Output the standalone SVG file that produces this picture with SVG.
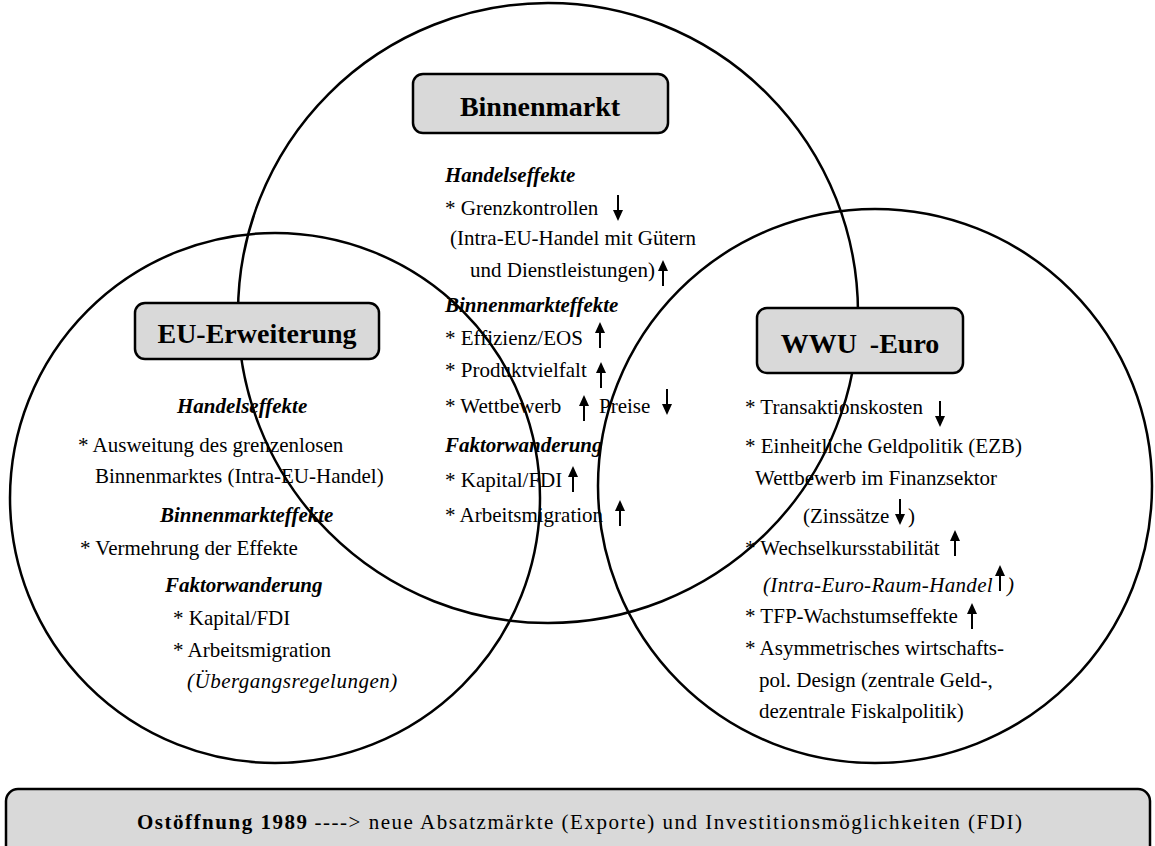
<svg xmlns="http://www.w3.org/2000/svg" width="1155" height="846" viewBox="0 0 1155 846">
<style>
text{font-family:"Liberation Serif","Times New Roman",serif;font-size:21px;fill:#000}
.t{font-weight:bold;font-size:28px;text-anchor:middle}
.h{font-weight:bold;font-style:italic}
.i{font-style:italic}
.circ{fill:none;stroke:#000;stroke-width:2.5}
.box{fill:#d9d9d9;stroke:#000;stroke-width:2.5}
</style>
<defs>
<g id="up"><polygon points="0,0 -5,11 5,11"/><line x1="0" y1="9" x2="0" y2="26" stroke="#000" stroke-width="2"/></g>
<g id="dn"><polygon points="0,0 -5,-11 5,-11"/><line x1="0" y1="-9" x2="0" y2="-26" stroke="#000" stroke-width="2"/></g>
</defs>
<rect width="1155" height="846" fill="#fff"/>
<g id="circles">
<circle class="circ" cx="548" cy="313" r="310"/>
<circle class="circ" cx="275" cy="498" r="265"/>
<circle class="circ" cx="875" cy="486" r="277"/>
</g>
<g id="binnenmarkt">
<rect class="box" x="413" y="74" width="255" height="59" rx="10"/>
<text class="t" x="540" y="116">Binnenmarkt</text>
<text class="h" x="445" y="182">Handelseffekte</text>
<text x="445" y="215">* Grenzkontrollen</text>
<use href="#dn" x="618" y="221"/>
<text x="450" y="245">(Intra-EU-Handel mit Gütern</text>
<text x="470" y="277">und Dienstleistungen)</text>
<use href="#up" x="663" y="260"/>
<text class="h" x="445" y="312">Binnenmarkteffekte</text>
<text x="445" y="345">* Effizienz/EOS</text>
<use href="#up" x="600" y="322"/>
<text x="445" y="377">* Produktvielfalt</text>
<use href="#up" x="601" y="362"/>
<text x="445" y="413">* Wettbewerb</text>
<use href="#up" x="584" y="395"/>
<text x="599" y="413">Preise</text>
<use href="#dn" x="667" y="415"/>
<text class="h" x="445" y="452">Faktorwanderung</text>
<text x="445" y="487">* Kapital/FDI</text>
<use href="#up" x="573" y="466"/>
<text x="445" y="522">* Arbeitsmigration</text>
<use href="#up" x="620" y="500"/>
</g>
<g id="eu">
<rect class="box" x="135" y="303" width="244" height="56" rx="10"/>
<text class="t" x="257" y="343">EU-Erweiterung</text>
<text class="h" x="177" y="413">Handelseffekte</text>
<text x="78" y="452">* Ausweitung des grenzenlosen</text>
<text x="95" y="483">Binnenmarktes (Intra-EU-Handel)</text>
<text class="h" x="160" y="522">Binnenmarkteffekte</text>
<text x="80" y="555">* Vermehrung der Effekte</text>
<text class="h" x="165" y="592">Faktorwanderung</text>
<text x="173" y="625">* Kapital/FDI</text>
<text x="173" y="657">* Arbeitsmigration</text>
<text class="i" x="187" y="688" letter-spacing="0.5">(Übergangsregelungen)</text>
</g>
<g id="wwu">
<rect class="box" x="757" y="308" width="206" height="65" rx="10"/>
<text class="t" x="860" y="353">WWU <tspan dx="6">-Euro</tspan></text>
<text x="745" y="414">* Transaktionskosten</text>
<use href="#dn" x="940" y="427"/>
<text x="745" y="453">* Einheitliche Geldpolitik (EZB)</text>
<text x="755" y="485">Wettbewerb im Finanzsektor</text>
<text x="803" y="523">(Zinssätze</text>
<use href="#dn" x="900" y="525"/>
<text x="908" y="523">)</text>
<text x="745" y="555">* Wechselkursstabilität</text>
<use href="#up" x="955" y="530"/>
<text class="i" x="763" y="592" letter-spacing="0.35">(Intra-Euro-Raum-Handel</text>
<use href="#up" x="1000" y="565"/>
<text class="i" x="1007" y="592">)</text>
<text x="745" y="623">* TFP-Wachstumseffekte</text>
<use href="#up" x="972" y="603"/>
<text x="745" y="655">* Asymmetrisches wirtschafts-</text>
<text x="759" y="687">pol. Design (zentrale Geld-,</text>
<text x="759" y="718">dezentrale Fiskalpolitik)</text>
</g>
<g id="ostoeffnung">
<rect class="box" x="6" y="789" width="1144" height="80" rx="12"/>
<text x="137" y="829" font-size="23" textLength="885" lengthAdjust="spacing"><tspan font-weight="bold">Ostöffnung 1989</tspan><tspan dx="6">----&gt; neue Absatzmärkte (Exporte) und Investitionsmöglichkeiten (FDI)</tspan></text>
</g>
</svg>
